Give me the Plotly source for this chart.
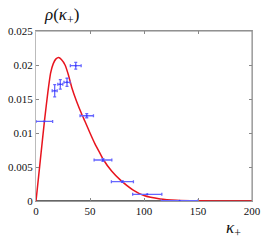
import plotly.graph_objects as go

# data points (kappa_+, rho) with errors
pts_x = [7.7, 17.3, 22.5, 28.7, 36.8, 47.0, 62.0, 80.0, 103.0, 133.0]
pts_y = [0.0117, 0.0162, 0.01716, 0.01745, 0.0199, 0.01254, 0.00603, 0.00284, 0.00098, 0.00005]
pts_xerr = [7.7, 2.3, 2.3, 2.8, 5.0, 6.2, 8.2, 10.2, 13.5, 17.0]
pts_yerr = [0.0, 0.0009, 0.0007, 0.0006, 0.0005, 0.0003, 0.0002, 0.0001, 0.0, 0.0]

# fitted curve
curve_x = [0, 4, 8, 11, 13.5, 16, 18.5, 21, 23.5, 26.9, 29.9, 33.1, 37.7, 42.3, 45.4,
           50, 54.6, 59.3, 62.3, 70, 78, 90, 100, 115, 130, 150, 175, 200]
curve_y = [0, 0.0060, 0.0120, 0.0160, 0.0188, 0.0202, 0.0209, 0.0211, 0.0208, 0.0200,
           0.0186, 0.0167, 0.0146, 0.0128, 0.0117, 0.0100, 0.0084, 0.0070, 0.0061,
           0.0044, 0.0031, 0.0016, 0.0008, 0.0003, 0.0001, 0.00002, 0.0, 0.0]

x_ticks = [0, 50, 100, 150, 200]
y_ticks = [0, 0.005, 0.01, 0.015, 0.02, 0.025]
y_tick_text = ["0", "0.005", "0.01", "0.015", "0.02", "0.025"]

SERIF = "Liberation Serif"
fig = go.Figure()
fig.add_trace(go.Scatter(
    x=curve_x, y=curve_y, mode="lines", line=dict(color="#e8141e", width=1.5, shape="spline", smoothing=0.5),
    hoverinfo="skip", showlegend=False))
fig.add_trace(go.Scatter(
    x=pts_x, y=pts_y, mode="markers",
    marker=dict(color="#3a3aff", size=2),
    error_x=dict(type="data", array=pts_xerr, color="#6666ff", thickness=1.3, width=1.5),
    error_y=dict(type="data", array=pts_yerr, color="#6666ff", thickness=1.3, width=1.5),
    showlegend=False))

font = dict(family=SERIF, size=11, color="#111")
fig.update_layout(
    width=266, height=240,
    margin=dict(l=36, r=14, t=31, b=39, autoexpand=False),
    paper_bgcolor="white", plot_bgcolor="white",
    font=font,
    xaxis=dict(range=[0, 200], tickvals=x_ticks, ticks="inside", ticklen=3, automargin=False,
               tickcolor="#888", showline=True, linecolor="#999", linewidth=1,
               mirror="ticks", showgrid=False, zeroline=False, tickfont=font),
    yaxis=dict(range=[0, 0.025], tickvals=y_ticks, ticktext=y_tick_text, ticks="inside",
               ticklen=3, tickcolor="#888", showline=True, linecolor="#bbb", linewidth=1,
               automargin=False,
               mirror="ticks", showgrid=False, zeroline=False, tickfont=font),
    shapes=[
        dict(type="line", xref="paper", yref="paper", x0=0, x1=1, y0=0, y1=0,
             line=dict(color="#666", width=2), layer="below"),
        dict(type="line", xref="paper", yref="paper", x0=0, x1=1, y0=1, y1=1,
             line=dict(color="#888", width=1)),
        dict(type="line", xref="paper", yref="paper", x0=1, x1=1, y0=0, y1=1,
             line=dict(color="#888", width=1)),
    ],
    annotations=[
        dict(text="<i>ρ</i>(<i>κ</i><sub>+</sub>)", xref="paper", yref="paper",
             x=0.03, y=1.0, xanchor="left", yanchor="bottom", yshift=2, showarrow=False,
             font=dict(family=SERIF, size=17, color="#111")),
        dict(text="<i>κ</i><sub>+</sub>", xref="paper", yref="paper",
             x=0.87, y=0, xanchor="left", yanchor="top", yshift=-15, showarrow=False,
             font=dict(family=SERIF, size=17, color="#111")),
    ],
)
fig.write_html("out.html", config={"displayModeBar": False},
               post_script="document.body.style.margin='0';document.body.style.padding='0';")
